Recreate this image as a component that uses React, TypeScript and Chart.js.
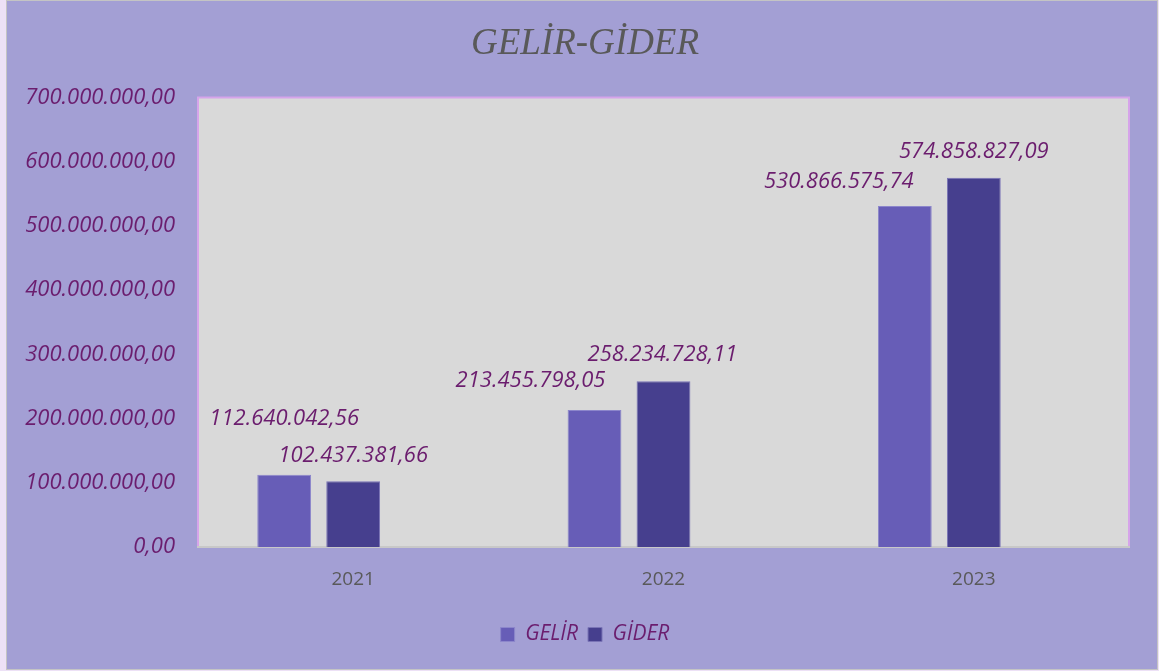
import React, { useEffect, useRef } from 'react';
import { Chart, registerables } from 'chart.js';

Chart.register(...registerables);

const chartTitle = 'GELİR-GİDER';
const categories = ['2021', '2022', '2023'];
const seriesNames = ['GELİR', 'GİDER'];
const gelirValues = [112640042.56, 213455798.05, 530866575.74];
const giderValues = [102437381.66, 258234728.11, 574858827.09];
const emptySeries: (number | null)[] = [null, null, null];
const yMin = 0;
const yMax = 700000000;
const yStep = 100000000;

// label offsets (style only): per series, per category, relative to bar top centre
const labelOffsets = [
  [{ dx: 0, dy: -56 }, { dx: -64, dy: -29 }, { dx: -66, dy: -24 }],
  [{ dx: 0, dy: -25 }, { dx: -1, dy: -26 }, { dx: 0, dy: -26 }],
];

const LABEL_COLOR = '#6B1D6E';
const SANS = "'Open Sans', 'DejaVu Sans', sans-serif";
const PAD_LEFT = 34;

function formatTR(v: number): string {
  const fixed = Math.abs(v).toFixed(2);
  const [intPart, dec] = fixed.split('.');
  const withDots = intPart.replace(/\B(?=(\d{3})+(?!\d))/g, '.');
  return (v < 0 ? '-' : '') + withDots + ',' + dec;
}

const plotBgPlugin = {
  id: 'plotBg',
  afterLayout(chart: any) {
    // widen the y-axis label area so tick labels are not clipped by the layout padding
    const y = chart.scales.y;
    if (y) {
      y.left = 0;
      y.width = y.right;
    }
  },
  beforeDraw(chart: any) {
    const { ctx, chartArea } = chart;
    const { left, top, right, bottom } = chartArea;
    ctx.save();
    ctx.fillStyle = '#D9D9D9';
    ctx.fillRect(left, top, right - left, bottom - top);
    ctx.strokeStyle = '#D6A4EA';
    ctx.lineWidth = 2;
    ctx.beginPath();
    ctx.moveTo(left, bottom);
    ctx.lineTo(left, top);
    ctx.lineTo(right, top);
    ctx.lineTo(right, bottom);
    ctx.stroke();
    ctx.restore();
  },
};

const dataLabelPlugin = {
  id: 'dataLabels',
  afterDatasetsDraw(chart: any) {
    const { ctx } = chart;
    ctx.save();
    ctx.font = `italic 22px ${SANS}`;
    ctx.fillStyle = LABEL_COLOR;
    ctx.textAlign = 'center';
    ctx.textBaseline = 'middle';
    for (let d = 0; d < 2; d++) {
      const meta = chart.getDatasetMeta(d);
      const data = chart.data.datasets[d].data as number[];
      meta.data.forEach((el: any, i: number) => {
        const off = labelOffsets[d][i];
        ctx.fillText(formatTR(data[i]), el.x + off.dx, el.y + off.dy);
      });
    }
    ctx.restore();
  },
};

export default function App() {
  const canvasRef = useRef<HTMLCanvasElement | null>(null);

  useEffect(() => {
    if (!canvasRef.current) return;
    const chart = new Chart(canvasRef.current, {
      type: 'bar',
      data: {
        labels: categories,
        datasets: [
          {
            label: seriesNames[0],
            data: gelirValues,
            backgroundColor: '#675DB7',
            borderColor: '#8C86CB',
            borderWidth: 1,
            categoryPercentage: 0.667,
            barPercentage: 0.78,
          },
          {
            label: seriesNames[1],
            data: giderValues,
            backgroundColor: '#463F8E',
            borderColor: '#7A74B6',
            borderWidth: 1,
            categoryPercentage: 0.667,
            barPercentage: 0.78,
          },
          {
            label: '',
            data: emptySeries,
            backgroundColor: 'transparent',
            categoryPercentage: 0.667,
            barPercentage: 0.78,
          },
        ],
      },
      options: {
        animation: false,
        responsive: true,
        maintainAspectRatio: false,
        layout: { padding: { left: PAD_LEFT, right: 28, top: 0, bottom: 14 } },
        plugins: {
          title: {
            display: true,
            text: chartTitle,
            color: '#595959',
            font: { family: "'Liberation Serif', 'Times New Roman', serif", size: 37, style: 'italic', weight: 'normal' },
            padding: { top: 21, bottom: 31 },
          },
          legend: {
            display: true,
            position: 'bottom',
            labels: {
              boxWidth: 14,
              boxHeight: 14,
              color: LABEL_COLOR,
              font: { family: SANS, size: 21, style: 'italic' },
              filter: (item: any) => item.datasetIndex < 2,
            },
          },
          tooltip: { enabled: false },
        },
        scales: {
          x: {
            grid: { display: false, drawTicks: false },
            border: { display: true, color: '#C8C8C8', width: 2 },
            ticks: { color: '#595959', font: { family: SANS, size: 19 }, padding: 21 },
            afterFit: (scale: any) => {
              scale.height = 67;
            },
          },
          y: {
            min: yMin,
            max: yMax,
            grid: { display: false, drawTicks: false },
            border: { display: false },
            ticks: {
              stepSize: yStep,
              color: LABEL_COLOR,
              font: { family: SANS, size: 22, style: 'italic' },
              padding: 23,
              callback: (v: any) => formatTR(Number(v)),
            },
            afterFit: (scale: any) => {
              scale.width = 191 - PAD_LEFT;
            },
          },
        },
      },
      plugins: [plotBgPlugin, dataLabelPlugin],
    } as any);
    return () => chart.destroy();
  }, []);

  return (
    <div style={{ position: 'fixed', left: 0, top: 0, width: 1159, height: 671, background: '#EDE1F6' }}>
      <div
        style={{
          position: 'absolute',
          left: 6,
          top: 0,
          width: 1152,
          height: 670,
          boxSizing: 'border-box',
          border: '1px solid #C4C4C4',
          background: '#A39FD4',
        }}
      >
        <div style={{ position: 'relative', width: 1150, height: 668 }}>
          <canvas ref={canvasRef} />
        </div>
      </div>
    </div>
  );
}
